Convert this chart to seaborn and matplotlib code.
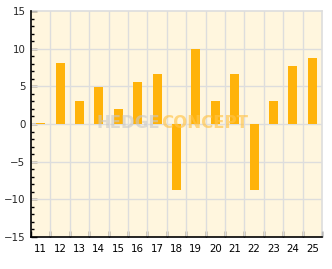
import matplotlib
matplotlib.use("Agg")
import matplotlib.pyplot as plt
import seaborn as sns
import pandas as pd
import numpy as np
from matplotlib.ticker import MultipleLocator, FixedLocator

categories = ["11", "12", "13", "14", "15", "16", "17", "18", "19", "20", "21", "22", "23", "24", "25"]
values = [0.1, 8.1, 3.1, 4.95, 2.0, 5.6, 6.7, -8.7, 9.9, 3.1, 6.7, -8.7, 3.0, 7.7, 8.8]
y_ticks = [-15, -10, -5, 0, 5, 10, 15]

sns.set_style("white")
plt.rcParams['font.family'] = ['DejaVu Sans']

df = pd.DataFrame({"cat": categories, "val": values})

fig = plt.figure(figsize=(3.32, 2.69), dpi=100)
ax = fig.add_axes([31/332, 1 - 237/269, 291/332, 226/269])
ax.set_facecolor("#FFF6DE")

sns.barplot(data=df, x="cat", y="val", color="#FFB30A", width=0.47,
            saturation=1, ax=ax, zorder=3, edgecolor="none")

ax.set_xlim(-0.5, len(categories) - 0.5)
ax.set_ylim(-15, 15)
ax.set_yticks(y_ticks)
ax.yaxis.set_minor_locator(MultipleLocator(1))
ax.xaxis.set_minor_locator(FixedLocator(np.arange(-0.5, len(categories), 1.0)))

ax.grid(False)
for b in np.arange(0.5, len(categories) - 0.5, 1.0):
    ax.axvline(b, color="#DDDDDD", lw=1, zorder=1)
for t in y_ticks[1:-1]:
    ax.axhline(t, color="#DDDDDD", lw=1, zorder=1)

ax.set_xlabel("")
ax.set_ylabel("")
ax.tick_params(axis="x", which="major", bottom=True, length=0, labelsize=7.4, pad=5, colors="black")
ax.tick_params(axis="x", which="minor", bottom=True, direction="in", length=4, width=1, color="black")
ax.tick_params(axis="y", which="major", left=True, direction="in", length=4.5, width=1, labelsize=7.4, pad=4, color="black")
ax.tick_params(axis="y", which="minor", left=True, direction="in", length=2.5, width=1, color="black")

for s in ["top", "right"]:
    ax.spines[s].set_color("#DDDDDD")
    ax.spines[s].set_linewidth(1.2)
for s in ["left", "bottom"]:
    ax.spines[s].set_color("black")
    ax.spines[s].set_linewidth(1.2)
    ax.spines[s].set_zorder(5)

wm_font = ["DejaVu Sans"]
ax.text(0.443, 0.505, "HEDGE", transform=ax.transAxes, ha="right", va="center",
        fontsize=13.2, fontweight="bold", fontstretch="condensed", family=wm_font,
        color="#C8C8C8", alpha=0.6, zorder=6)
ax.text(0.447, 0.505, "CONCEPT", transform=ax.transAxes, ha="left", va="center",
        fontsize=13.2, fontweight="bold", fontstretch="condensed", family=wm_font,
        color="#FFC44A", alpha=0.65, zorder=6)

fig.savefig("out.png", dpi=100, facecolor="white")
